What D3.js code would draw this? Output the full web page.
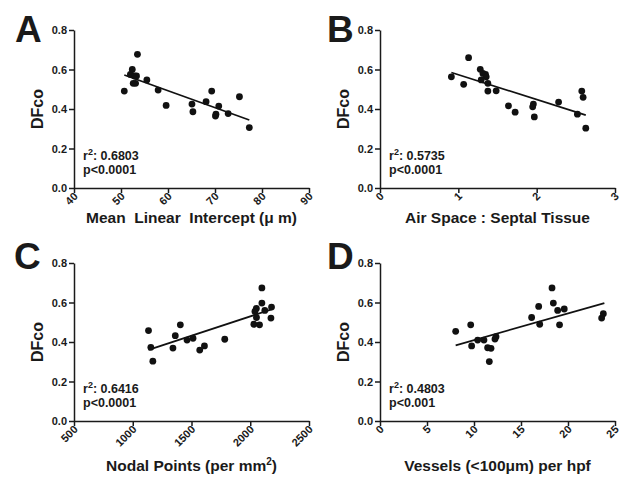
<!doctype html>
<html>
<head>
<meta charset="utf-8">
<style>
  body { margin:0; background:#fff; }
  svg text { font-family: "Liberation Sans", Arial, Helvetica, sans-serif; font-weight: bold; fill: #1a1a1a; }
  .axis path, .axis line { stroke: #1a1a1a; stroke-width: 1.5px; }
</style>
<script src="https://d3js.org/d3.v7.min.js"></script>
</head>
<body>
<script>
// DFco against four lung morphometry measures

var yTicks = [0, 0.2, 0.4, 0.6, 0.8];

// A - mean linear intercept (um)
var mliX = [50.7, 53.5, 52.4, 52.0, 52.9, 53.3, 52.6, 53.1, 55.5, 57.9, 59.6, 65.1, 65.3, 68.1, 69.3, 70.8, 70.2, 70.1, 72.8, 75.2, 77.3];
var mliY = [0.491, 0.677, 0.600, 0.575, 0.567, 0.567, 0.530, 0.530, 0.547, 0.496, 0.418, 0.425, 0.386, 0.437, 0.491, 0.415, 0.374, 0.364, 0.377, 0.462, 0.306];
var mliFit = [[50.7, 0.572], [77.3, 0.344]];
var mliTicks = [40, 50, 60, 70, 80, 90];

// B - air space : septal tissue
var asX = [0.911, 1.131, 1.068, 1.280, 1.314, 1.347, 1.356, 1.292, 1.377, 1.377, 1.483, 1.640, 1.725, 1.958, 1.949, 1.970, 2.280, 2.520, 2.576, 2.593, 2.627];
var asY = [0.563, 0.660, 0.525, 0.601, 0.580, 0.575, 0.563, 0.547, 0.530, 0.491, 0.492, 0.416, 0.384, 0.425, 0.411, 0.360, 0.435, 0.374, 0.491, 0.459, 0.303];
var asFit = [[0.911, 0.585], [2.627, 0.369]];
var asTicks = [0, 1, 2, 3];

// C - nodal points per mm2
var npX = [1134, 1154, 1171, 1342, 1362, 1405, 1462, 1513, 1570, 1610, 1783, 2099, 2099, 2181, 2124, 2052, 2040, 2053, 2176, 2031, 2079];
var npY = [0.458, 0.373, 0.303, 0.369, 0.432, 0.487, 0.410, 0.419, 0.359, 0.380, 0.414, 0.674, 0.597, 0.577, 0.560, 0.570, 0.555, 0.524, 0.521, 0.490, 0.487];
var npFit = [[1134, 0.360], [2181, 0.565]];
var npTicks = [500, 1000, 1500, 2000, 2500];

// D - vessels (<100um) per hpf
var vX = [8.05, 9.65, 9.75, 10.39, 11.06, 11.45, 11.81, 11.63, 12.23, 12.34, 16.13, 16.88, 16.99, 18.30, 18.44, 18.90, 19.60, 19.10, 23.58, 23.76];
var vY = [0.454, 0.487, 0.380, 0.410, 0.410, 0.371, 0.368, 0.301, 0.415, 0.427, 0.524, 0.580, 0.490, 0.674, 0.597, 0.560, 0.567, 0.487, 0.521, 0.543];
var vFit = [[8.05, 0.383], [23.87, 0.597]];
var vTicks = [0, 5, 10, 15, 20, 25];

var panels = [
  {letter: "A", xs: mliX, ys: mliY, fit: mliFit, ticks: mliTicks,
   title: [{t: "Mean  Linear  Intercept (\u03bc m)"}], r2: "0.6803", p: "p<0.0001",
   left: 74, top: 30, lx: 15, ly: 42, ty: 223},
  {letter: "B", xs: asX, ys: asY, fit: asFit, ticks: asTicks,
   title: [{t: "Air Space : Septal Tissue"}], r2: "0.5735", p: "p<0.0001",
   left: 380, top: 30, lx: 327, ly: 42, ty: 223},
  {letter: "C", xs: npX, ys: npY, fit: npFit, ticks: npTicks,
   title: [{t: "Nodal Points (per mm"}, {t: "2", sup: true}, {t: ")"}], r2: "0.6416", p: "p<0.0001",
   left: 74, top: 263, lx: 14, ly: 269, ty: 471},
  {letter: "D", xs: vX, ys: vY, fit: vFit, ticks: vTicks,
   title: [{t: "Vessels (<100\u03bcm) per hpf"}], r2: "0.4803", p: "p<0.001",
   left: 380, top: 263, lx: 327, ly: 269, ty: 471}
];

var W = 235, H = 158;

var svg = d3.select("body").append("svg")
  .attr("width", 622)
  .attr("height", 477);

panels.forEach(function(pn) {
  var x = d3.scaleLinear()
    .domain([pn.ticks[0], pn.ticks[pn.ticks.length - 1]])
    .range([0, W]);
  var y = d3.scaleLinear().domain([0, 0.8]).range([H, 0]);

  svg.append("text")
    .attr("x", pn.lx)
    .attr("y", pn.ly)
    .style("font-size", "37px")
    .text(pn.letter);

  var g = svg.append("g")
    .attr("transform", "translate(" + pn.left + "," + pn.top + ")");

  var ya = g.append("g").attr("class", "axis")
    .call(d3.axisLeft(y).tickValues(yTicks).tickFormat(d3.format(".1f")).tickSize(5).tickSizeOuter(0));
  ya.selectAll("text").style("font-size", "11px").attr("dx", "1px");

  var xa = g.append("g").attr("class", "axis")
    .attr("transform", "translate(0," + H + ")")
    .call(d3.axisBottom(x).tickValues(pn.ticks).tickFormat(d3.format("d")).tickSize(5).tickSizeOuter(0));
  xa.selectAll("text")
    .style("font-size", "11px")
    .style("text-anchor", "end")
    .attr("dy", null)
    .attr("y", 0)
    .attr("x", 0)
    .attr("transform", "translate(4,9) rotate(-45)");
  xa.select(".domain").attr("stroke-width", 1.6);
  ya.select(".domain").attr("stroke-width", 1.6);

  g.append("line")
    .attr("x1", x(pn.fit[0][0]))
    .attr("y1", y(pn.fit[0][1]))
    .attr("x2", x(pn.fit[1][0]))
    .attr("y2", y(pn.fit[1][1]))
    .attr("stroke", "#111")
    .attr("stroke-width", 1.7);

  g.selectAll("circle")
    .data(pn.xs)
    .enter().append("circle")
    .attr("cx", function(d) { return x(d); })
    .attr("cy", function(d, i) { return y(pn.ys[i]); })
    .attr("r", 3.4)
    .attr("fill", "#111");

  // y axis title
  g.append("text")
    .attr("transform", "translate(-31," + (H / 2) + ") rotate(-90)")
    .attr("text-anchor", "middle")
    .style("font-size", "16px")
    .text("DFco");

  // x axis title
  var t = svg.append("text")
    .attr("x", pn.left + W / 2)
    .attr("y", pn.ty)
    .attr("text-anchor", "middle")
    .style("font-size", "15.5px")
    .style("white-space", "pre");
  pn.title.forEach(function(s) {
    if (s.sup) {
      t.append("tspan").attr("dy", "-6").style("font-size", "10px").text(s.t);
    } else {
      var ts = t.append("tspan").text(s.t);
      if (t.selectAll("tspan").size() > 1) ts.attr("dy", "6");
    }
  });

  // fit statistics
  var st = g.append("text")
    .attr("x", 9)
    .attr("y", 130)
    .style("font-size", "12.5px");
  st.append("tspan").text("r");
  st.append("tspan").attr("dy", "-5").style("font-size", "9px").text("2");
  st.append("tspan").attr("dy", "5").text(": " + pn.r2);
  g.append("text")
    .attr("x", 9)
    .attr("y", 144)
    .style("font-size", "12.5px")
    .text(pn.p);
});
</script>
</body>
</html>
